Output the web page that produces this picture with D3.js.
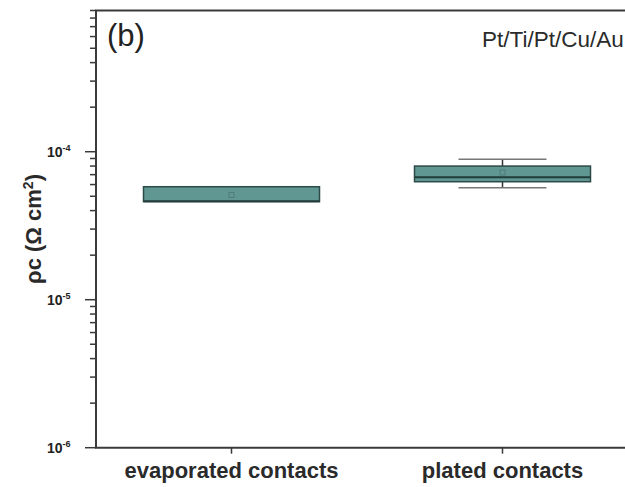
<!DOCTYPE html>
<html>
<head>
<meta charset="utf-8">
<script src="https://cdn.jsdelivr.net/npm/d3@7"></script>
<style>
  body { margin: 0; background: #fff; }
  svg { display: block; font-family: "Liberation Sans", Arial, sans-serif; }
</style>
</head>
<body>
<svg width="625" height="487"></svg>
<script>
// data (contact resistivity, ohm cm^2)
var categories = ["evaporated contacts", "plated contacts"];
var q1     = [4.60e-5, 6.27e-5];
var q3     = [5.80e-5, 8.00e-5];
var median = [4.63e-5, 6.72e-5];
var lower  = [4.60e-5, 5.71e-5];
var upper  = [5.80e-5, 8.89e-5];
var means  = [5.10e-5, 7.24e-5];
var yTicks = [1e-6, 1e-5, 1e-4];
var yTickExp = ["-6", "-5", "-4"];

var svg = d3.select("svg");

// plot frame
var pLeft = 96, pRight = 638, pTop = 10.5, pBottom = 447.7;

var x = d3.scalePoint()
  .domain(categories)
  .range([pLeft, pRight])
  .padding(0.5);

var y = d3.scaleLog()
  .domain([1e-6, 9e-4])
  .range([pBottom, pTop]);

var boxW = 176, capW = 88;
var axisCol = "#3a3a3a";

// minor ticks
var minor = [];
[1e-6, 1e-5, 1e-4].forEach(function(dec) {
  for (var k = 2; k <= 9; k++) minor.push(dec * k);
});

var g = svg.append("g");

// boxes
var boxes = g.selectAll(".box")
  .data(categories)
  .enter().append("g")
  .attr("class", "box");

// whiskers
boxes.append("line")
  .attr("x1", function(d) { return x(d); })
  .attr("x2", function(d) { return x(d); })
  .attr("y1", function(d, i) { return y(upper[i]); })
  .attr("y2", function(d, i) { return y(q3[i]); })
  .attr("stroke", "#333").attr("stroke-width", 1.5);
boxes.append("line")
  .attr("x1", function(d) { return x(d); })
  .attr("x2", function(d) { return x(d); })
  .attr("y1", function(d, i) { return y(q1[i]); })
  .attr("y2", function(d, i) { return y(lower[i]); })
  .attr("stroke", "#333").attr("stroke-width", 1.5);
// caps
boxes.each(function(d, i) {
  if (upper[i] <= q3[i]) return;
  var sel = d3.select(this);
  [upper[i], lower[i]].forEach(function(v) {
    sel.append("line")
      .attr("x1", x(d) - capW / 2).attr("x2", x(d) + capW / 2)
      .attr("y1", y(v)).attr("y2", y(v))
      .attr("stroke", "#777").attr("stroke-width", 1.5);
  });
});

boxes.append("rect")
  .attr("x", function(d) { return x(d) - boxW / 2; })
  .attr("width", boxW)
  .attr("y", function(d, i) { return y(q3[i]); })
  .attr("height", function(d, i) { return y(q1[i]) - y(q3[i]); })
  .attr("fill", "#619793")
  .attr("stroke", "#2c4a48")
  .attr("stroke-width", 1.5);

boxes.append("line")
  .attr("x1", function(d) { return x(d) - boxW / 2; })
  .attr("x2", function(d) { return x(d) + boxW / 2; })
  .attr("y1", function(d, i) { return y(median[i]); })
  .attr("y2", function(d, i) { return y(median[i]); })
  .attr("stroke", "#223c3a").attr("stroke-width", 2);

// mean markers
boxes.append("rect")
  .attr("x", function(d) { return x(d) - 2.5; })
  .attr("y", function(d, i) { return y(means[i]) - 2.5; })
  .attr("width", 5).attr("height", 5)
  .attr("fill", "none")
  .attr("stroke", "#4f7d7a").attr("stroke-width", 1);

// y axis
var yAxis = g.append("g");
yAxis.append("line")
  .attr("x1", pLeft).attr("x2", pLeft)
  .attr("y1", pTop).attr("y2", pBottom)
  .attr("stroke", axisCol).attr("stroke-width", 2);
yAxis.selectAll(".major")
  .data(yTicks)
  .enter().append("line")
  .attr("x1", pLeft - 11).attr("x2", pLeft)
  .attr("y1", function(d) { return y(d); })
  .attr("y2", function(d) { return y(d); })
  .attr("stroke", axisCol).attr("stroke-width", 1.5);
yAxis.selectAll(".minor")
  .data(minor)
  .enter().append("line")
  .attr("x1", pLeft - 6).attr("x2", pLeft)
  .attr("y1", function(d) { return y(d); })
  .attr("y2", function(d) { return y(d); })
  .attr("stroke", axisCol).attr("stroke-width", 1.5);

var tl = yAxis.selectAll(".tl")
  .data(yTicks)
  .enter().append("text")
  .attr("x", 47)
  .attr("y", function(d) { return y(d) + 5; })
  .attr("font-size", 14)
  .attr("font-weight", "bold")
  .attr("fill", "#222");
tl.append("tspan").text("10");
tl.append("tspan")
  .attr("dy", -6)
  .attr("font-size", 9)
  .text(function(d, i) { return yTickExp[i]; });

// x axis
var xAxis = g.append("g");
xAxis.append("line")
  .attr("x1", pLeft - 1).attr("x2", pRight)
  .attr("y1", pBottom).attr("y2", pBottom)
  .attr("stroke", axisCol).attr("stroke-width", 2);
xAxis.selectAll(".xt")
  .data(categories)
  .enter().append("line")
  .attr("x1", function(d) { return x(d); })
  .attr("x2", function(d) { return x(d); })
  .attr("y1", pBottom).attr("y2", pBottom + 6)
  .attr("stroke", axisCol).attr("stroke-width", 1.5);
xAxis.selectAll(".xl")
  .data(categories)
  .enter().append("text")
  .attr("x", function(d) { return x(d); })
  .attr("y", 478)
  .attr("text-anchor", "middle")
  .attr("font-size", 22)
  .attr("font-weight", "bold")
  .attr("fill", "#2a2a2a")
  .text(function(d) { return d; });

// top frame line
g.append("line")
  .attr("x1", pLeft - 1).attr("x2", pRight)
  .attr("y1", pTop).attr("y2", pTop)
  .attr("stroke", axisCol).attr("stroke-width", 2);

// y label
var yl = svg.append("text")
  .attr("transform", "translate(41,229) rotate(-90)")
  .attr("text-anchor", "middle")
  .attr("font-size", 22)
  .attr("font-weight", "bold")
  .attr("fill", "#2a2a2a");
yl.append("tspan").text("ρc (Ω cm");
yl.append("tspan").attr("dy", -8).attr("font-size", 14).text("2");
yl.append("tspan").attr("dy", 8).text(")");

// panel label and legend text
svg.append("text")
  .attr("x", 107).attr("y", 46)
  .attr("font-size", 31)
  .attr("fill", "#222")
  .text("(b)");

svg.append("text")
  .attr("x", 482).attr("y", 47)
  .attr("font-size", 22.5)
  .attr("fill", "#2a2a2a")
  .text("Pt/Ti/Pt/Cu/Au");
</script>
</body>
</html>
